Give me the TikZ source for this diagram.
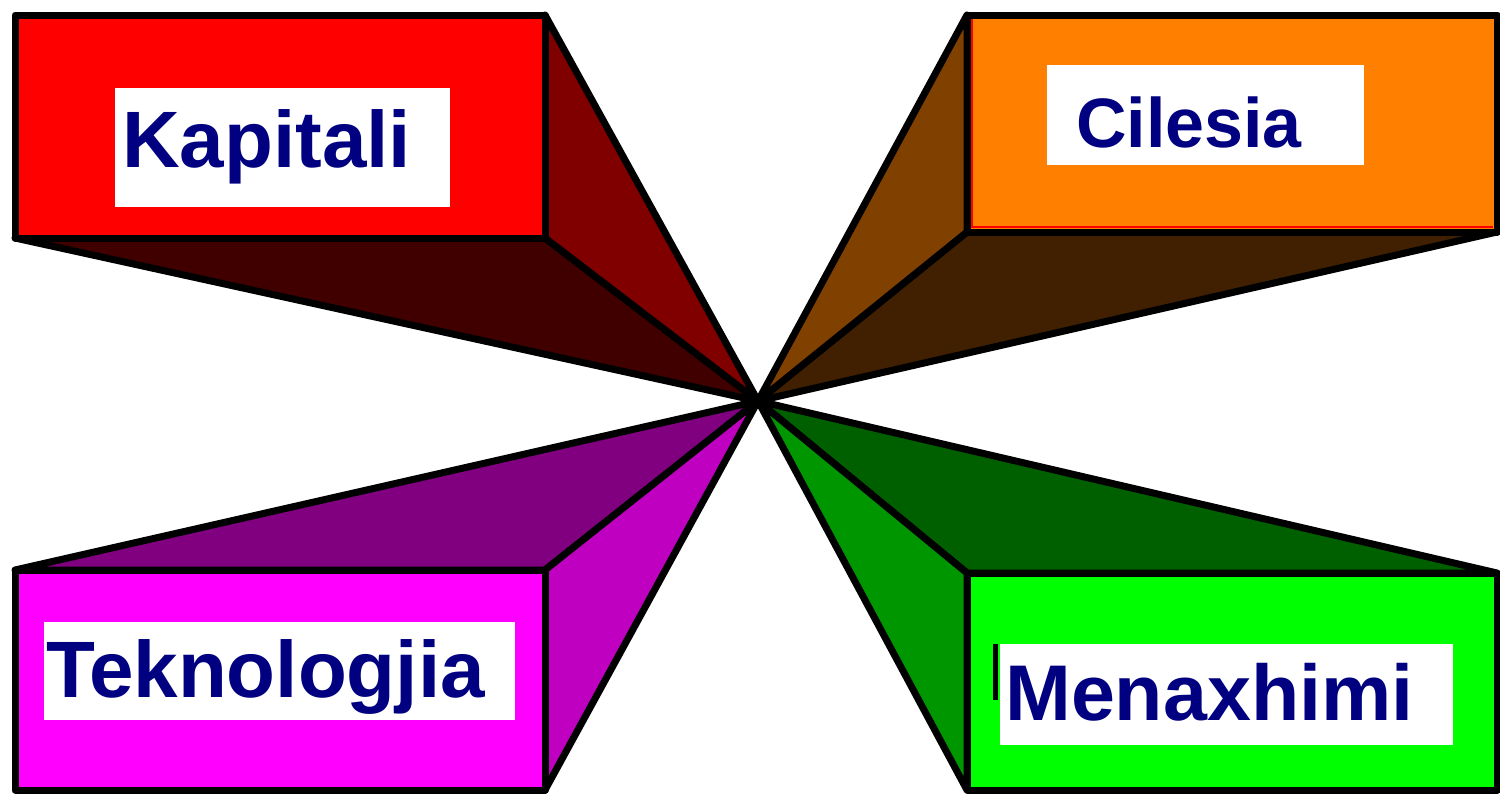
\documentclass[tikz,border=0pt]{standalone}
\usepackage{fontspec}
\setmainfont{Liberation Sans}
\definecolor{navytext}{RGB}{0,0,128}
\definecolor{redfront}{RGB}{255,0,0}
\definecolor{redside}{RGB}{128,0,0}
\definecolor{redbottom}{RGB}{64,0,0}
\definecolor{orfront}{RGB}{255,128,0}
\definecolor{orside}{RGB}{128,64,0}
\definecolor{orbottom}{RGB}{64,32,0}
\definecolor{mgfront}{RGB}{255,0,255}
\definecolor{mgtop}{RGB}{128,0,128}
\definecolor{mgside}{RGB}{192,0,192}
\definecolor{grfront}{RGB}{0,255,0}
\definecolor{grtop}{RGB}{0,96,0}
\definecolor{grside}{RGB}{0,150,0}
\tikzset{
  face/.style={draw=black,line width=7pt,line join=round},
  label box/.style={fill=white,draw=none},
  label text/.style={anchor=base west,inner sep=0pt,text=navytext,font=\bfseries}
}
\begin{document}
\begin{tikzpicture}[x=1pt,y=-1pt]
\useasboundingbox (0,0) rectangle (1500,796);
\fill[white] (0,0) rectangle (1500,796);
\coordinate (vp) at (758,401);
% top-left (Kapitali)
\filldraw[face,fill=redbottom] (15,238) -- (545,238) -- (vp) -- cycle;
\filldraw[face,fill=redside] (545,15) -- (vp) -- (545,238) -- cycle;
\filldraw[face,fill=redfront] (15,15) rectangle (545,238);
\fill[label box] (115,88) rectangle (450,207);
\node[label text,font=\bfseries\fontsize{80}{80}\selectfont] (kap) at (122,167) {Kapitali};
% top-right (Cilesia)
\filldraw[face,fill=orbottom] (967,232) -- (1497,232) -- (vp) -- cycle;
\filldraw[face,fill=orside] (967,15) -- (vp) -- (967,232) -- cycle;
\filldraw[face,fill=orfront] (967,15) rectangle (1497,232);
\draw[redfront,line width=2pt] (972,19) -- (972,227) -- (1493,227);
\fill[label box] (1047,65) rectangle (1364,165);
\node[label text,font=\bfseries\fontsize{70}{70}\selectfont] (cil) at (1076,147) {Cilesia};
% bottom-left (Teknologjia)
\filldraw[face,fill=mgtop] (15,570) -- (545,570) -- (vp) -- cycle;
\filldraw[face,fill=mgside] (545,570) -- (vp) -- (545,790) -- cycle;
\filldraw[face,fill=mgfront] (15,570) rectangle (545,790);
\fill[label box] (44,622) rectangle (515,720);
\node[label text,font=\bfseries\fontsize{80}{80}\selectfont] (tek) at (46,697) {Teknologjia};
% bottom-right (Menaxhimi)
\filldraw[face,fill=grtop] (967,573) -- (1497,573) -- (vp) -- cycle;
\filldraw[face,fill=grside] (967,573) -- (vp) -- (967,790) -- cycle;
\filldraw[face,fill=grfront] (967,573) rectangle (1497,790);
\fill[label box] (1000,644) rectangle (1453,745);
\node[label text,font=\bfseries\fontsize{79}{79}\selectfont] (men) at (1005,720) {Menaxhimi};
\draw[black,line width=5pt] (995,644) -- (995,700);
\end{tikzpicture}
\end{document}
